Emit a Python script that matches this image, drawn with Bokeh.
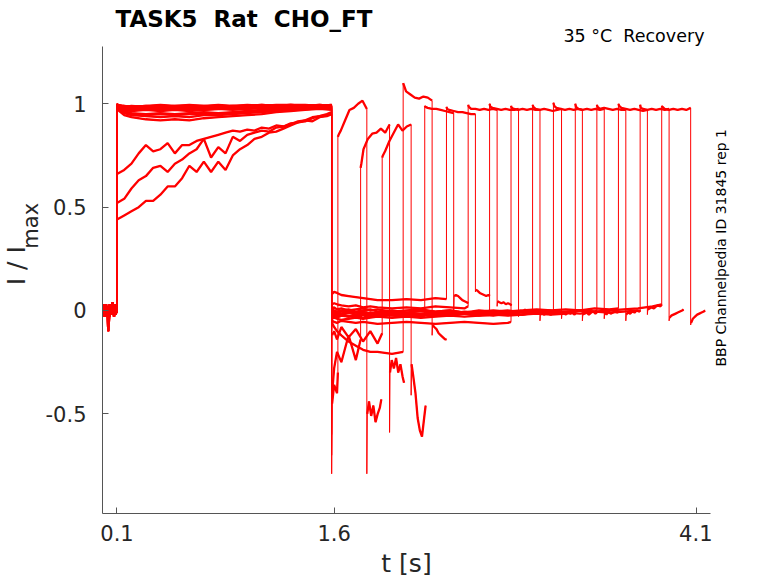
from math import pi
from bokeh.plotting import figure
from bokeh.models import Range1d, FixedTicker, Label
from bokeh.layouts import row, column
from bokeh.embed import file_html
from bokeh.resources import INLINE

# ---------------- data ----------------
# holding period before the prepulse (t in s, I/Imax)
base_t = [0.0, 0.008, 0.015, 0.025, 0.035, 0.04, 0.05, 0.06, 0.07, 0.08, 0.09, 0.1]
base_v = [
    [0.0, 0.02, -0.01, 0.03, -0.02, -0.1, 0.01, -0.02, 0.04, 0.0, 0.03, 0.01],
    [-0.03, 0.01, 0.03, -0.02, 0.02, -0.01, -0.03, 0.02, -0.01, 0.03, -0.02, 0.0],
    [0.02, -0.02, 0.0, 0.02, -0.03, 0.01, 0.03, -0.01, 0.01, -0.03, 0.02, -0.01],
    [-0.01, 0.03, -0.03, 0.01, 0.0, -0.04, 0.02, 0.0, -0.02, 0.01, -0.01, 0.02],
]

# prepulse, traces that stay near 1
pre_t = [0.1, 0.105, 0.15, 0.2, 0.3, 0.4, 0.5, 0.6, 0.7, 0.8, 0.9, 1.0, 1.1, 1.2, 1.3, 1.4, 1.5, 1.583]
pre_top_v = [
    [1.00, 0.995, 0.985, 0.99, 0.985, 0.99, 0.985, 0.99, 0.99, 0.985, 0.99, 0.99, 0.995, 0.99, 0.995, 0.99, 0.995, 0.99],
    [0.995, 0.99, 0.98, 0.975, 0.98, 0.975, 0.98, 0.98, 0.985, 0.98, 0.985, 0.985, 0.99, 0.985, 0.99, 0.99, 0.985, 0.99],
    [0.99, 0.98, 0.97, 0.965, 0.97, 0.965, 0.97, 0.965, 0.97, 0.975, 0.97, 0.975, 0.98, 0.975, 0.98, 0.985, 0.985, 0.98],
    [0.985, 0.975, 0.955, 0.945, 0.94, 0.935, 0.94, 0.935, 0.945, 0.945, 0.95, 0.955, 0.96, 0.965, 0.97, 0.975, 0.98, 0.975],
    [0.98, 0.97, 0.945, 0.935, 0.925, 0.92, 0.925, 0.92, 0.93, 0.935, 0.94, 0.945, 0.95, 0.96, 0.965, 0.97, 0.975, 0.97],
    [0.995, 0.99, 0.985, 0.98, 0.985, 0.98, 0.985, 0.985, 0.98, 0.985, 0.99, 0.985, 0.99, 0.99, 0.985, 0.99, 0.99, 0.995],
    [1.0, 0.99, 0.975, 0.97, 0.975, 0.975, 0.97, 0.975, 0.975, 0.98, 0.975, 0.98, 0.98, 0.985, 0.98, 0.985, 0.99, 0.985],
    [0.99, 0.985, 0.99, 0.985, 0.99, 0.995, 0.99, 0.995, 0.99, 0.995, 0.99, 0.995, 0.99, 0.995, 0.995, 0.99, 0.995, 0.99],
    [0.985, 0.98, 0.965, 0.955, 0.95, 0.955, 0.95, 0.955, 0.96, 0.955, 0.96, 0.965, 0.97, 0.975, 0.975, 0.98, 0.985, 0.98],
    [0.995, 0.985, 0.975, 0.98, 0.975, 0.98, 0.975, 0.98, 0.985, 0.98, 0.985, 0.98, 0.985, 0.99, 0.985, 0.99, 0.985, 0.99],
    [1.0, 0.995, 0.99, 0.985, 0.99, 0.985, 0.99, 0.99, 0.985, 0.99, 0.985, 0.99, 0.995, 0.99, 0.995, 0.995, 0.99, 0.995],
    [0.99, 0.98, 0.97, 0.975, 0.97, 0.975, 0.97, 0.975, 0.97, 0.975, 0.98, 0.975, 0.98, 0.98, 0.985, 0.98, 0.985, 0.99],
    [0.985, 0.975, 0.96, 0.95, 0.945, 0.95, 0.945, 0.95, 0.95, 0.955, 0.955, 0.96, 0.965, 0.97, 0.97, 0.975, 0.98, 0.985],
]

# prepulse, slowly rising traces
rise_t = [0.1, 0.15, 0.2, 0.25, 0.3, 0.35, 0.4, 0.45, 0.5, 0.55, 0.6, 0.65, 0.7, 0.75, 0.8, 0.85,
          0.9, 0.95, 1.0, 1.05, 1.1, 1.15, 1.2, 1.25, 1.3, 1.35, 1.4, 1.45, 1.5, 1.55, 1.583]
rise_v = [
    [0.66, 0.68, 0.71, 0.76, 0.80, 0.77, 0.78, 0.81, 0.76, 0.80, 0.80, 0.82, 0.83, 0.84, 0.85, 0.86,
     0.87, 0.865, 0.875, 0.87, 0.885, 0.88, 0.895, 0.89, 0.905, 0.91, 0.92, 0.915, 0.935, 0.94, 0.95],
    [0.52, 0.54, 0.59, 0.63, 0.65, 0.69, 0.70, 0.67, 0.71, 0.73, 0.76, 0.78, 0.83, 0.74, 0.79, 0.76,
     0.84, 0.82, 0.85, 0.86, 0.87, 0.865, 0.885, 0.89, 0.90, 0.915, 0.92, 0.935, 0.94, 0.95, 0.96],
    [0.44, 0.46, 0.48, 0.50, 0.53, 0.53, 0.56, 0.60, 0.60, 0.64, 0.70, 0.67, 0.72, 0.67, 0.72, 0.68,
     0.75, 0.78, 0.80, 0.83, 0.84, 0.86, 0.865, 0.88, 0.895, 0.91, 0.915, 0.93, 0.94, 0.945, 0.95],
]

# which prepulse belongs to each of the 16 sweeps
pre_kind = ["top", "top", "top", "rise", "top", "top", "top", "top",
            "rise", "top", "top", "top", "rise", "top", "top", "top"]
pre_index = [0, 1, 2, 0, 3, 4, 5, 6, 1, 7, 8, 9, 2, 10, 11, 12]

# interval after the prepulse
post_t = [1.583, 1.586, 1.6, 1.62, 1.65, 1.70, 1.75, 1.80, 1.85, 1.90, 2.0, 2.1, 2.2, 2.3, 2.4,
          2.5, 2.6, 2.7, 2.8, 2.9, 3.0, 3.1, 3.2, 3.3, 3.4, 3.5, 3.6, 3.7, 3.8]
test_start = [1.626, 1.783, 1.932, 2.077, 2.226, 2.376, 2.526, 2.674, 2.822, 2.971, 3.115,
              3.266, 3.415, 3.564, 3.714, 3.863]
post_v = [
    [-0.79, -0.45, -0.36, -0.4, -0.3],
    [-0.7, -0.4, -0.28, -0.2, -0.25, -0.12, -0.24, -0.14],
    [-0.6, -0.12, -0.1, -0.14, -0.08, -0.13, -0.09, -0.15, -0.1, -0.16, -0.11],
    [-0.1, -0.06, -0.08, -0.1, -0.12, -0.15, -0.17, -0.19, -0.2, -0.2, -0.21, -0.2],
    [-0.06, -0.03, -0.02, -0.035, -0.025, -0.03, -0.02, -0.035, -0.025, -0.03, -0.02, -0.025, -0.03, -0.025],
    [0.0, 0.08, 0.09, 0.085, 0.075, 0.07, 0.065, 0.06, 0.055, 0.05, 0.05, 0.055, 0.05, 0.06, 0.055],
    [0.0, 0.03, 0.035, 0.03, 0.025, 0.02, 0.025, 0.015, 0.02, 0.015, 0.01, 0.015, 0.01, 0.02, 0.015, 0.01, 0.02],
    [-0.04, -0.01, 0.0, -0.01, -0.005, 0.0, -0.01, -0.005, -0.015, -0.01, -0.005, -0.01, -0.02, -0.01,
     -0.015, -0.005, -0.01, -0.01],
    [-0.08, -0.05, -0.055, -0.06, -0.05, -0.055, -0.06, -0.055, -0.06, -0.065, -0.06, -0.055, -0.06,
     -0.065, -0.06, -0.055, -0.06, -0.065, -0.06, -0.055],
    [-0.05, -0.02, -0.015, -0.025, -0.02, -0.03, -0.025, -0.02, -0.03, -0.025, -0.02, -0.03, -0.025,
     -0.02, -0.025, -0.015, -0.02, -0.025, -0.015, -0.02, -0.01],
    [-0.03, 0.01, 0.015, 0.005, 0.01, 0.0, 0.005, 0.01, 0.0, 0.005, -0.005, 0.0, 0.005, -0.005, 0.0,
     -0.01, 0.0, -0.005, 0.0, -0.01, -0.005, 0.0, -0.005],
    [-0.06, -0.04, -0.035, -0.04, -0.045, -0.04, -0.035, -0.04, -0.035, -0.03, -0.035, -0.03, -0.035,
     -0.03, -0.025, -0.03, -0.025, -0.02, -0.025, -0.02, -0.015, -0.02, -0.015, -0.01],
    [-0.04, -0.015, -0.01, -0.02, -0.015, -0.01, -0.02, -0.015, -0.01, -0.015, -0.02, -0.01, -0.015,
     -0.01, -0.005, -0.015, -0.01, -0.005, -0.01, -0.005, 0.0, -0.01, -0.005, 0.0, -0.005, 0.0],
    [-0.02, 0.005, 0.0, -0.005, 0.0, 0.005, -0.005, 0.0, 0.005, -0.005, 0.0, -0.01, 0.0, -0.005, 0.0,
     -0.01, -0.005, 0.0, -0.005, 0.0, 0.005, 0.0, 0.005, 0.0, 0.01, 0.005, 0.01],
    [-0.05, -0.03, -0.025, -0.03, -0.02, -0.025, -0.03, -0.02, -0.025, -0.02, -0.025, -0.03, -0.02,
     -0.025, -0.02, -0.015, -0.025, -0.02, -0.015, -0.02, -0.01, -0.015, -0.01, -0.015, -0.005, -0.01,
     -0.005, 0.0, -0.005],
    [-0.03, -0.01, -0.005, -0.01, -0.015, -0.005, -0.01, -0.015, -0.02, -0.01, -0.015, -0.02, -0.015,
     -0.01, -0.02, -0.015, -0.01, -0.015, -0.01, -0.005, -0.01, -0.005, -0.01, 0.0, -0.005, 0.0, 0.005,
     0.01, 0.02, 0.03],
]

# test pulse (time after its onset)
test_dt = [0.0, 0.005, 0.02, 0.05, 0.08, 0.11, 0.14, 0.17, 0.2]
test_v = [
    [0.84, 0.85, 0.87, 0.92, 0.97, 0.98, 1.0, 1.015, 0.975],
    [0.69, 0.71, 0.78, 0.83, 0.855, 0.86, 0.88, 0.86, 0.9],
    [0.74, 0.75, 0.77, 0.82, 0.86, 0.9, 0.87, 0.89, 0.9],
    [1.10, 1.09, 1.06, 1.045, 1.03, 1.025, 1.035, 1.03, 1.015],
    [0.99, 0.985, 0.98, 0.975, 0.975, 0.97, 0.965, 0.96, 0.955],
    [0.985, 0.975, 0.97, 0.965, 0.96, 0.96, 0.955, 0.95, 0.95],
    [0.995, 0.985, 0.975, 0.975, 0.97, 0.975, 0.97, 0.975, 0.97],
    [1.0, 0.985, 0.98, 0.975, 0.97, 0.975, 0.97, 0.97, 0.975],
    [0.99, 0.98, 0.975, 0.97, 0.975, 0.97, 0.975, 0.97, 0.97],
    [0.995, 0.985, 0.975, 0.97, 0.975, 0.97, 0.965, 0.97, 0.975],
    [1.005, 0.99, 0.98, 0.975, 0.97, 0.975, 0.97, 0.975, 0.97],
    [1.0, 0.985, 0.975, 0.97, 0.975, 0.97, 0.975, 0.97, 0.975],
    [0.995, 0.985, 0.975, 0.98, 0.975, 0.97, 0.975, 0.97, 0.97],
    [1.0, 0.99, 0.98, 0.975, 0.97, 0.975, 0.97, 0.965, 0.97],
    [0.995, 0.98, 0.975, 0.97, 0.975, 0.97, 0.975, 0.97, 0.975],
    [0.99, 0.985, 0.975, 0.97, 0.975, 0.97, 0.975, 0.97, 0.98],
]

# tail after the test pulse (time after test onset)
tail_dt = [0.2, 0.203, 0.215, 0.23, 0.245, 0.26, 0.275, 0.29, 0.3]
tail_v = [
    [-0.79, -0.5, -0.44, -0.51, -0.46, -0.54, -0.5, -0.47, -0.43],
    [-0.59, -0.3, -0.24, -0.28, -0.23, -0.3, -0.26, -0.32, -0.35],
    [-0.41, -0.26, -0.32, -0.4, -0.52, -0.58, -0.61, -0.52, -0.46],
    [-0.12, -0.07, -0.08, -0.09, -0.11, -0.12, -0.13, -0.14, -0.14],
    [-0.02, 0.07, 0.075, 0.07, 0.06, 0.05, 0.045, 0.04, 0.035],
    [0.09, 0.1, 0.095, 0.085, 0.08, 0.075, 0.07, 0.075, 0.07],
    [0.02, 0.045, 0.04, 0.035, 0.04, 0.03, 0.035, 0.03, 0.025],
    [-0.03, -0.01, 0.0, -0.01, 0.005, -0.005, 0.0, -0.01, 0.0],
    [-0.05, -0.02, -0.015, -0.02, -0.01, -0.015, -0.02, -0.01, -0.015],
    [-0.04, -0.015, -0.01, -0.02, -0.005, -0.015, -0.01, -0.02, -0.01],
    [-0.05, -0.02, -0.015, -0.01, -0.02, -0.01, -0.005, -0.015, -0.01],
    [-0.04, -0.01, -0.02, -0.005, -0.015, -0.01, 0.0, -0.01, -0.005],
    [-0.05, -0.02, -0.01, -0.015, -0.005, -0.01, 0.0, -0.005, 0.0],
    [-0.02, 0.005, 0.01, 0.015, 0.01, 0.02, 0.025, 0.02, 0.03],
    [-0.05, -0.035, -0.025, -0.02, -0.015, -0.01, -0.005, 0.0, 0.005],
    [-0.07, -0.06, -0.04, -0.03, -0.02, -0.015, -0.01, -0.005, 0.0],
]

x_ticks = [0.1, 1.6, 4.1]
x_tick_labels = ["0.1", "1.6", "4.1"]
y_ticks = [-0.5, 0, 0.5, 1]
y_tick_labels = ["-0.5", "0", "0.5", "1"]

title_text = "TASK5 \u00a0Rat \u00a0CHO_FT"
cond_text = "35 \u00b0C \u00a0Recovery"
side_text = "BBP Channelpedia ID 31845 rep 1"
x_label = "t [s]"
y_label_main = "I / I"
y_label_sub = "max"

# ---------------- build sweeps ----------------
full_xs, full_ys = [], []
thick_xs, thick_ys = [], []
for k, t2 in enumerate(test_start):
    bv = base_v[k % len(base_v)]
    if pre_kind[k] == "rise":
        pt, pv = rise_t, rise_v[pre_index[k]]
    else:
        pt, pv = pre_t, pre_top_v[pre_index[k]]
    ts = [t for t in post_t if t < t2]
    n = min(len(ts), len(post_v[k]) - 1)
    qx = ts[:n] + [t2]
    qy = post_v[k][:n] + [post_v[k][-1]]
    tx = [t2 + d for d in test_dt]
    ty = test_v[k]
    rx = [t2 + d for d in tail_dt]
    ry = tail_v[k]
    full_xs.append(list(base_t) + list(pt) + qx + tx + rx)
    full_ys.append(list(bv) + list(pv) + qy + list(ty) + list(ry))
    for sx, sy in ((base_t, bv), (pt, pv), (qx[1:], qy[1:]), (tx, ty), (rx[1:], ry[1:])):
        thick_xs.append(list(sx))
        thick_ys.append(list(sy))

# ---------------- layout geometry (page pixels) ----------------
TOP_H = 46          # title strip
LEFT_W = 42         # y-label strip
MAIN_W = 670
RIGHT_W = 58        # side-note strip
MAIN_H = 536
FONT = "DejaVu Sans"
MID = 0.346         # distance (em) from the middle of the font box to the baseline


def strip(w, h, x0, y0):
    """Empty text strip whose data coordinates equal page pixels (y negated)."""
    f = figure(width=w, height=h, output_backend="svg", toolbar_location=None,
               title_location=None,
               x_range=Range1d(x0, x0 + w), y_range=Range1d(-(y0 + h), -y0),
               min_border=0, min_border_left=0, min_border_right=0,
               min_border_top=0, min_border_bottom=0)
    f.axis.visible = False
    f.xgrid.visible = False
    f.ygrid.visible = False
    f.outline_line_color = None
    f.background_fill_color = "white"
    f.border_fill_color = "white"
    return f


def lab(f, x, y, text, size, bold=False, angle=0.0, align="left", color="#000000"):
    """x, y: page position of the text baseline (start / centre of the line)."""
    off = MID * size
    if angle:
        x = x - off
    else:
        y = y - off
    f.add_layout(Label(x=x, y=-y, text=text, text_font=FONT, text_font_size=f"{size}px",
                       text_font_style="bold" if bold else "normal", angle=angle,
                       text_align=align, text_baseline="middle", text_color=color))


top = strip(LEFT_W + MAIN_W + RIGHT_W, TOP_H, 0, 0)
lab(top, 115, 26.5, title_text, 23, bold=True)
lab(top, 704, 41.5, cond_text, 17.5, align="right")

left = strip(LEFT_W, MAIN_H, 0, TOP_H)
lab(left, 25, 320, y_label_main, 25, angle=pi / 2, color="#262626")
lab(left, 38, 278, y_label_sub, 21, angle=pi / 2, color="#262626")

right = strip(RIGHT_W, MAIN_H, LEFT_W + MAIN_W, TOP_H)
lab(right, 725, 277, side_text, 14, angle=pi / 2, align="center")

# ---------------- main plot ----------------
p = figure(width=MAIN_W, height=MAIN_H, output_backend="svg", toolbar_location=None,
           x_range=Range1d(0.0, 4.2), y_range=Range1d(-0.982, 1.277),
           min_border_left=60, min_border_right=2, min_border_top=0, min_border_bottom=69)
p.outline_line_color = None
p.xgrid.visible = False
p.ygrid.visible = False
p.background_fill_color = "white"
p.border_fill_color = "white"

p.multi_line(full_xs, full_ys, line_color="#ff0000", line_width=1)
p.multi_line(thick_xs, thick_ys, line_color="#ff0000", line_width=2.3)

for ax, ticks, labels in ((p.xaxis[0], x_ticks, x_tick_labels), (p.yaxis[0], y_ticks, y_tick_labels)):
    ax.ticker = FixedTicker(ticks=ticks)
    ax.major_label_overrides = {t: l for t, l in zip(ticks, labels)}
    ax.minor_tick_line_color = None
    ax.major_tick_in = 6
    ax.major_tick_out = 0
    ax.axis_line_color = "#555555"
    ax.major_tick_line_color = "#555555"
    ax.major_label_text_font = FONT
    ax.major_label_text_font_size = "21px"
    ax.major_label_text_color = "#262626"
p.yaxis[0].major_label_standoff = 16
p.xaxis[0].major_label_standoff = 11
p.xaxis[0].axis_label = x_label
p.xaxis[0].axis_label_standoff = 5
p.xaxis[0].axis_label_text_font = FONT
p.xaxis[0].axis_label_text_font_size = "25px"
p.xaxis[0].axis_label_text_font_style = "normal"
p.xaxis[0].axis_label_text_color = "#262626"

layout = column(top, row(left, p, right, spacing=0), spacing=0)
open("out.html", "w").write(file_html(layout, INLINE))
